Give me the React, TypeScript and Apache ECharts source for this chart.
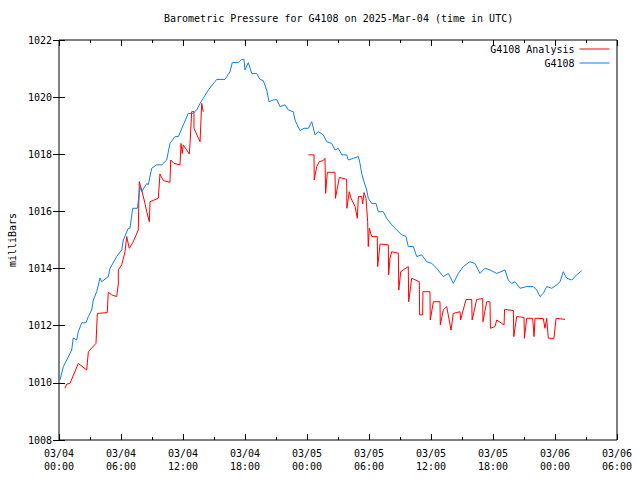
import React, { useEffect, useRef } from "react";
import * as echarts from "echarts";

// Hours since 2025-03-04 00:00 UTC
const stationHours = [0.10,0.42,0.75,1.23,1.38,1.71,1.87,2.20,2.61,2.84,3.16,3.32,3.65,3.97,4.13,4.77,4.94,5.58,6.07,6.22,6.71,6.87,7.13,7.58,7.77,7.84,8.00,8.49,8.64,8.97,9.45,9.94,10.42,10.74,11.23,11.55,12.03,12.51,12.94,13.33,13.65,13.96,14.45,15.26,16.06,16.55,16.77,17.35,17.68,17.90,18.00,18.32,18.65,19.13,19.45,19.77,20.10,20.32,20.74,21.07,21.39,21.87,22.19,22.67,22.84,23.32,23.71,24.13,24.46,24.77,25.09,25.58,25.91,26.39,26.71,27.03,27.36,27.84,28.00,28.48,28.97,29.13,29.29,29.52,29.78,29.93,30.26,30.68,30.90,31.38,31.71,32.20,32.68,33.17,33.58,33.80,34.29,34.62,35.10,35.58,36.07,36.55,37.19,37.68,38.16,38.64,39.13,39.77,40.26,40.74,41.23,41.71,42.36,43.16,43.48,43.81,44.13,44.61,45.26,45.90,46.23,46.55,46.87,47.20,47.68,48.17,48.49,48.80,49.13,49.62,50.10,50.58];
const stationValues = [1010.10,1010.57,1010.80,1011.15,1011.57,1011.50,1011.79,1012.10,1012.10,1012.32,1012.55,1012.90,1013.19,1013.67,1013.54,1013.72,1014.01,1014.42,1014.65,1015.00,1015.41,1015.41,1016.11,1016.11,1016.63,1016.87,1016.69,1016.98,1016.93,1017.51,1017.63,1017.63,1017.80,1018.38,1018.62,1018.62,1019.03,1019.43,1019.43,1019.55,1019.78,1019.96,1020.25,1020.62,1020.62,1020.89,1021.21,1021.21,1021.32,1021.32,1020.95,1021.21,1020.83,1020.83,1020.62,1020.58,1020.25,1019.84,1019.90,1019.92,1019.67,1019.73,1019.55,1019.49,1019.20,1018.83,1018.91,1018.91,1019.14,1018.68,1018.79,1018.68,1018.44,1018.38,1018.15,1018.21,1017.98,1017.98,1017.80,1017.86,1017.92,1017.68,1017.33,1017.04,1016.75,1016.46,1016.28,1016.28,1015.99,1015.99,1015.76,1015.53,1015.35,1015.18,1015.12,1014.77,1014.77,1014.42,1014.48,1014.24,1014.18,1014.01,1013.72,1013.83,1013.48,1013.83,1014.07,1014.24,1014.18,1013.83,1014.01,1013.95,1013.83,1013.95,1013.60,1013.48,1013.54,1013.31,1013.37,1013.37,1013.25,1013.02,1013.13,1013.37,1013.31,1013.43,1013.54,1013.89,1013.66,1013.60,1013.78,1013.92];

// null marks the gap in the analysis record
const analysisHours = [0.58,0.75,1.06,1.87,2.68,2.84,3.58,3.71,4.67,4.77,5.10,5.58,5.74,5.74,6.07,6.39,6.55,6.80,7.19,7.67,7.77,8.00,8.32,8.49,8.74,8.81,9.61,9.77,10.09,10.74,10.81,11.13,11.71,11.81,11.93,12.03,12.61,12.68,12.84,13.06,13.06,13.65,13.81,13.96,
  19.00,
  24.13,24.68,24.70,24.94,25.19,25.58,25.74,25.80,25.97,26.71,26.75,27.13,27.84,27.86,28.09,28.26,28.65,28.87,28.97,29.29,29.39,29.52,29.71,29.87,29.93,30.03,30.26,30.80,30.84,31.07,31.87,31.90,32.03,32.20,32.84,32.88,33.07,33.80,33.84,34.13,34.87,34.90,35.19,35.22,35.90,35.93,36.23,36.87,36.90,37.19,37.52,37.94,38.16,38.81,38.86,39.39,39.94,39.98,40.42,41.00,41.03,41.39,41.71,41.75,42.19,42.36,43.07,43.12,43.97,44.01,44.29,45.00,45.04,45.26,45.84,45.97,46.07,46.87,47.03,47.20,47.35,47.90,48.10,48.97];
const analysisValues = [1009.81,1009.96,1009.98,1010.68,1010.45,1011.09,1011.38,1012.43,1012.46,1013.17,1013.08,1013.02,1013.46,1013.95,1014.13,1014.59,1015.12,1014.71,1014.94,1015.35,1017.04,1016.75,1016.28,1015.99,1015.64,1016.34,1016.46,1017.31,1017.08,1017.02,1017.80,1017.68,1017.63,1018.38,1018.03,1018.33,1018.01,1018.38,1019.49,1019.49,1018.91,1018.44,1019.78,1019.49,
  null,
  1017.98,1017.98,1017.10,1017.57,1017.74,1017.78,1017.86,1016.63,1017.37,1017.37,1016.46,1017.19,1017.12,1016.11,1016.69,1016.46,1016.17,1015.76,1016.52,1016.52,1016.26,1016.66,1016.46,1015.64,1014.77,1015.41,1015.12,1015.12,1014.07,1014.86,1014.83,1013.78,1014.36,1014.59,1014.54,1013.25,1013.89,1014.07,1012.84,1013.66,1013.54,1012.38,1012.38,1013.19,1013.19,1012.20,1012.84,1012.84,1012.03,1012.55,1012.67,1011.85,1012.43,1012.49,1012.20,1012.92,1012.92,1012.20,1012.92,1012.95,1012.14,1012.84,1012.84,1011.91,1011.97,1012.20,1012.03,1012.57,1012.53,1011.62,1012.32,1012.29,1011.56,1012.26,1012.26,1011.62,1012.26,1012.25,1011.91,1012.26,1011.56,1011.56,1012.26,1012.22];

const xTickHours = [0, 6, 12, 18, 24, 30, 36, 42, 48, 54];
const yTicks = [1008, 1010, 1012, 1014, 1016, 1018, 1020, 1022];
const seriesNames = ["G4108 Analysis", "G4108"];
const titleText = "Barometric Pressure for G4108 on 2025-Mar-04 (time in UTC)";
const yName = "milliBars";

const FONT = "DejaVu Sans Mono";

function hourLabel(h: number): string {
  const day = 4 + Math.floor(h / 24);
  const hh = h % 24;
  return "03/" + String(day).padStart(2, "0") + "\n" + String(hh).padStart(2, "0") + ":00";
}

export default function App() {
  const ref = useRef<HTMLDivElement>(null);
  useEffect(() => {
    if (!ref.current) return;
    const chart = echarts.init(ref.current, undefined, { renderer: "svg" });
    const stationData = stationHours.map((h, i) => [h, stationValues[i]]);
    const analysisData = analysisHours.map((h, i) =>
      analysisValues[i] === null ? [h, "-"] : [h, analysisValues[i]]
    );
    const xMin = xTickHours[0];
    const xMax = xTickHours[xTickHours.length - 1];
    const yMin = yTicks[0];
    const yMax = yTicks[yTicks.length - 1];
    const common = {
      type: "value" as const,
      axisLine: { show: false },
      splitLine: { show: false },
    };
    chart.setOption({
      animation: false,
      backgroundColor: "#ffffff",
      textStyle: { fontFamily: FONT, color: "#000" },
      title: {
        text: titleText,
        left: 164,
        top: 13,
        textStyle: { fontFamily: FONT, fontSize: 10, fontWeight: "normal", color: "#000" },
        padding: 0,
      },
      legend: {
        orient: "vertical",
        align: "right",
        right: 30,
        top: 44,
        itemWidth: 30,
        itemHeight: 10,
        itemGap: 4,
        padding: 0,
        data: seriesNames,
        itemStyle: { opacity: 0 },
        lineStyle: { width: 1 },
        textStyle: { fontFamily: FONT, fontSize: 10, color: "#000" },
      },
      grid: {
        left: 59,
        right: 23,
        top: 40,
        bottom: 40,
        containLabel: false,
        outerBoundsMode: "none",
        show: true,
        borderColor: "#000",
        borderWidth: 1,
        backgroundColor: "transparent",
      },
      xAxis: [
        {
          ...common,
          min: xMin,
          max: xMax,
          interval: 6,
          position: "bottom",
          axisTick: { show: true, inside: true, length: 6, lineStyle: { color: "#000" } },
          minorTick: { show: true, splitNumber: 2, length: 3, lineStyle: { color: "#000" } },
          axisLabel: {
            formatter: (v: number) => hourLabel(v),
            fontFamily: FONT,
            fontSize: 10,
            color: "#000",
            margin: 7,
            lineHeight: 13,
          },
        },
        {
          ...common,
          min: xMin,
          max: xMax,
          interval: 6,
          position: "top",
          axisTick: { show: true, inside: true, length: 6, lineStyle: { color: "#000" } },
          minorTick: { show: true, splitNumber: 2, length: 3, lineStyle: { color: "#000" } },
          axisLabel: { show: false },
        },
      ],
      yAxis: [
        {
          ...common,
          min: yMin,
          max: yMax,
          interval: 2,
          position: "left",
          name: yName,
          nameLocation: "middle",
          nameRotate: 90,
          nameGap: 40,
          nameTextStyle: { fontFamily: FONT, fontSize: 10, color: "#000" },
          axisTick: { show: true, inside: true, length: 6, lineStyle: { color: "#000" } },
          axisLabel: {
            formatter: (v: number) => String(v),
            fontFamily: FONT,
            fontSize: 10,
            color: "#000",
            margin: 7,
          },
        },
        {
          ...common,
          min: yMin,
          max: yMax,
          interval: 2,
          position: "right",
          axisTick: { show: true, inside: true, length: 6, lineStyle: { color: "#000" } },
          axisLabel: { show: false },
        },
      ],
      series: [
        {
          name: seriesNames[0],
          type: "line",
          data: analysisData,
          symbol: "none",
          showSymbol: false,
          connectNulls: false,
          lineStyle: { color: "#ff0000", width: 1 },
          itemStyle: { color: "#ff0000" },
        },
        {
          name: seriesNames[1],
          type: "line",
          data: stationData,
          symbol: "none",
          showSymbol: false,
          lineStyle: { color: "#0d7fef", width: 1 },
          itemStyle: { color: "#0d7fef" },
        },
      ],
    });
    return () => chart.dispose();
  }, []);
  return (
    <div
      ref={ref}
      style={{ position: "fixed", left: 0, top: 0, width: 640, height: 480, background: "#fff" }}
    />
  );
}
